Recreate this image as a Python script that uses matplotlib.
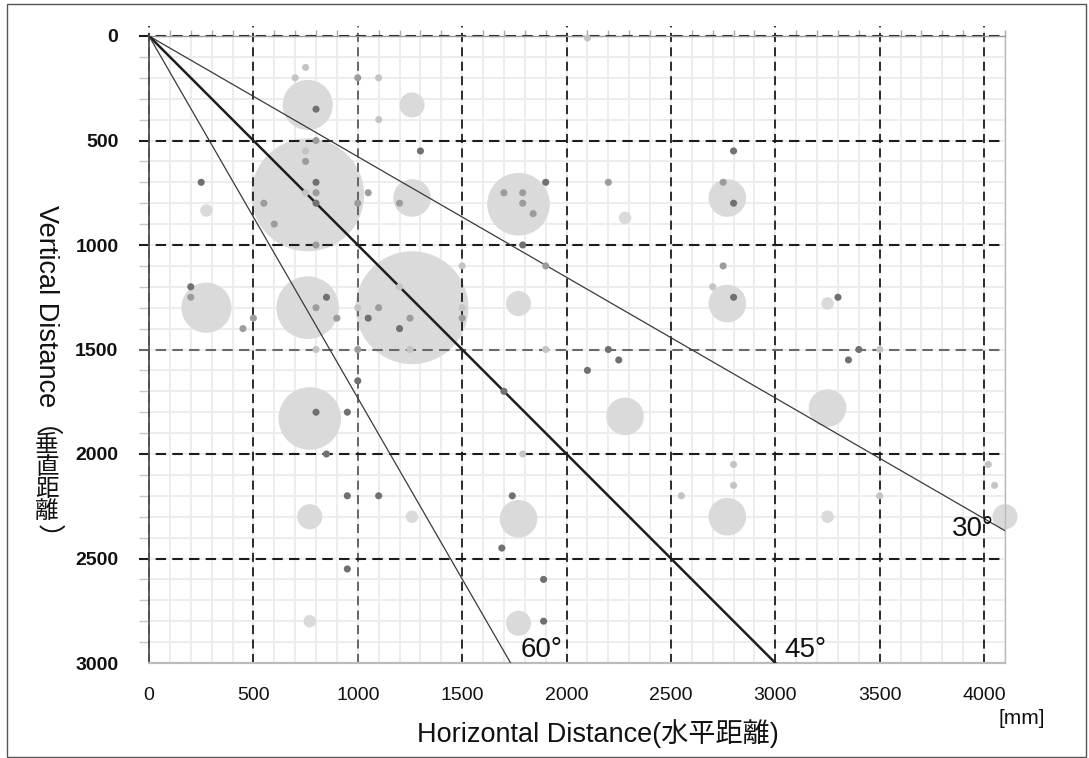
import numpy as np
import matplotlib
matplotlib.use("agg")
from matplotlib import pyplot as plt
from matplotlib.patches import Circle, Rectangle
from matplotlib.ticker import MultipleLocator

plt.rcParams["font.family"] = ["Liberation Sans", "Noto Sans CJK JP"]

# large bubbles: centre and radius in mm
bubble_x = [760, 1260, 760, 275, 1260, 1770, 2280, 2770,
            275, 760, 1260, 1770, 2770, 3250,
            770, 2280, 3250,
            770, 1260, 1770, 2770, 3250, 4100,
            770, 1770]
bubble_y = [330, 330, 760, 835, 775, 805, 870, 775,
            1300, 1300, 1300, 1280, 1280, 1280,
            1830, 1820, 1780,
            2300, 2300, 2310, 2300, 2300, 2300,
            2800, 2810]
bubble_r = [120, 60, 270, 30, 90, 150, 30, 90,
            120, 150, 270, 60, 90, 30,
            150, 90, 90,
            60, 30, 90, 90, 30, 60,
            30, 60]

# small markers: position in mm and shade (l = light, m = medium, d = dark)
dot_x = [750, 700, 1000, 1100, 800, 1100, 800, 750, 750, 800, 750, 800, 800,
         550, 600, 250, 1000, 1050, 1200, 1300, 1700, 800,
         2100, 1900, 1790, 1790, 1840, 1790, 2200, 2750, 2800, 2800,
         200, 200, 450, 500, 800, 850, 900, 800, 1000, 1000, 1100, 1050,
         1200, 1250, 1200, 1250, 1500, 1500, 1500, 1000, 800, 950, 850,
         1700, 1900, 1900, 2200, 2250, 2100, 1790, 2750, 2700, 2800, 2800,
         3300, 3400, 3350, 3500, 4020, 4050, 2800, 2550, 1740, 1690, 1890,
         1890, 950, 1100, 950, 3500]
dot_y = [150, 200, 200, 200, 350, 400, 500, 550, 600, 700, 750, 750, 800,
         800, 900, 700, 800, 750, 800, 550, 750, 1000,
         10, 700, 750, 800, 850, 1000, 700, 700, 800, 550,
         1200, 1250, 1400, 1350, 1300, 1250, 1350, 1500, 1500, 1300, 1300, 1350,
         1200, 1350, 1400, 1500, 1100, 1300, 1350, 1650, 1800, 1800, 2000,
         1700, 1100, 1500, 1500, 1550, 1600, 2000, 1100, 1200, 1250, 2050,
         1250, 1500, 1550, 1500, 2050, 2150, 2150, 2200, 2200, 2450, 2600,
         2800, 2200, 2200, 2550, 2200]
dot_shade = ["l", "l", "m", "l", "d", "l", "m", "l", "m", "d", "l", "m", "d",
             "m", "m", "d", "m", "m", "m", "d", "m", "m",
             "l", "d", "m", "m", "m", "d", "m", "m", "d", "d",
             "d", "m", "m", "m", "m", "d", "m", "l", "m", "l", "m", "d",
             "l", "m", "d", "l", "l", "l", "m", "d", "d", "d", "d",
             "d", "m", "l", "d", "d", "d", "l", "m", "l", "d", "l",
             "d", "d", "d", "l", "l", "l", "l", "l", "d", "d", "d",
             "d", "d", "d", "d", "l"]

angles = [30, 45, 60]
angle_labels = ["30°", "45°", "60°"]
x_ticks = [0, 500, 1000, 1500, 2000, 2500, 3000, 3500, 4000]
y_ticks = [0, 500, 1000, 1500, 2000, 2500, 3000]

shade_colors = {"l": "#c4c4c4", "m": "#9c9c9c", "d": "#707070"}

W, H = 1089, 758
fig = plt.figure(figsize=(W / 100, H / 100), dpi=100)
ax = fig.add_axes([149 / W, 1 - 663 / H, (1005 - 149) / W, (663 - 36) / H])
ax.set_xlim(0, 4100)
ax.set_ylim(3000, 0)

# light 100 mm grid underneath everything
ax.set_axisbelow(True)
ax.xaxis.set_minor_locator(MultipleLocator(100))
ax.yaxis.set_minor_locator(MultipleLocator(100))
ax.grid(which="both", color="#ededed", lw=1.4)

for bx, by, br in zip(bubble_x, bubble_y, bubble_r):
    ax.add_patch(Circle((bx, by), br, facecolor="#dadada", edgecolor="none",
                        zorder=1, clip_on=False))

# dashed 500 mm grid on top of the bubbles
for xt in x_ticks:
    col = "#5a5a5a" if xt == 1000 else "#1c1c1c"
    ax.axvline(xt, ymin=0, ymax=1.016, color=col, lw=1.3,
               ls=(0, (5, 3)), zorder=2, clip_on=False)
for yt in y_ticks[:-1]:
    col = "#6a6a6a" if yt == 1500 else "#1c1c1c"
    ax.axhline(yt, xmin=-0.012, xmax=1, color=col, lw=1.5,
               ls=(0, (5, 3)), zorder=2, clip_on=False)

for a in angles:
    lw, col = (1.8, "#1e1e1e") if a == 45 else (0.9, "#3a3a3a")
    ax.axline((0, 0), slope=np.tan(np.radians(a)), color=col, lw=lw, zorder=3)

ax.scatter(dot_x, dot_y, s=26, c=[shade_colors[s] for s in dot_shade],
           edgecolors="none", zorder=4, clip_on=False)

# angle labels placed by the line ends
label_pos = {"30°": (3846, 2390), "45°": (3041, 2970), "60°": (1780, 2970)}
for lab in angle_labels:
    ax.text(*label_pos[lab], lab, fontsize=20, ha="left", va="baseline",
            color="#111", zorder=5)

ax.set_xticks(x_ticks)
ax.set_yticks(y_ticks)
ax.tick_params(axis="x", which="both", bottom=False, top=True, labelbottom=True,
               labeltop=False)
ax.tick_params(axis="x", which="major", length=0, pad=17, labelsize=14,
               labelcolor="#111")
ax.tick_params(axis="x", which="minor", length=4, color="#aaaaaa", width=1)
ax.tick_params(axis="y", which="major", length=0, pad=22, labelsize=14,
               labelcolor="#111")
ax.tick_params(axis="y", which="minor", length=7, color="#c8c8c8", width=1)
for lbl in ax.get_yticklabels():
    lbl.set_fontweight("bold")

for side, col, lw in [("left", "#555555", 1.3), ("bottom", "#bbbbbb", 1.6),
                      ("right", "#bbbbbb", 1.0), ("top", "#999999", 1.0)]:
    ax.spines[side].set_color(col)
    ax.spines[side].set_linewidth(lw)

fig.text(598 / W, 1 - 734 / H, "Horizontal Distance(水平距離)", fontsize=19.5,
         ha="center", va="center", color="#111")
fig.text(1022 / W, 1 - 719 / H, "[mm]", fontsize=15, ha="center", va="center",
         color="#111")

# y label: latin part rotated, CJK characters stacked upright below it
lx = 47 / W
t1 = fig.text(lx, 1 - 205 / H, "Vertical Distance（", fontsize=19.5,
              rotation=-90, ha="center", va="top", color="#111")
fig.canvas.draw()
ext = t1.get_window_extent()
y_cur = ext.y0 / H - 1 / H
step = 22 / H
for ch in "垂直距離":
    fig.text(lx, y_cur, ch, fontsize=17, ha="center", va="top", color="#111")
    y_cur -= step
fig.text(lx, y_cur - 1 / H, "）", fontsize=19.5, rotation=-90, ha="center",
         va="top", color="#111")

fig.add_artist(Rectangle((7 / W, 1 / H), (1086 - 7) / W, (757 - 4) / H,
                         transform=fig.transFigure, fill=False,
                         edgecolor="#555555", lw=1.0))

fig.savefig("out.png", dpi=100)
